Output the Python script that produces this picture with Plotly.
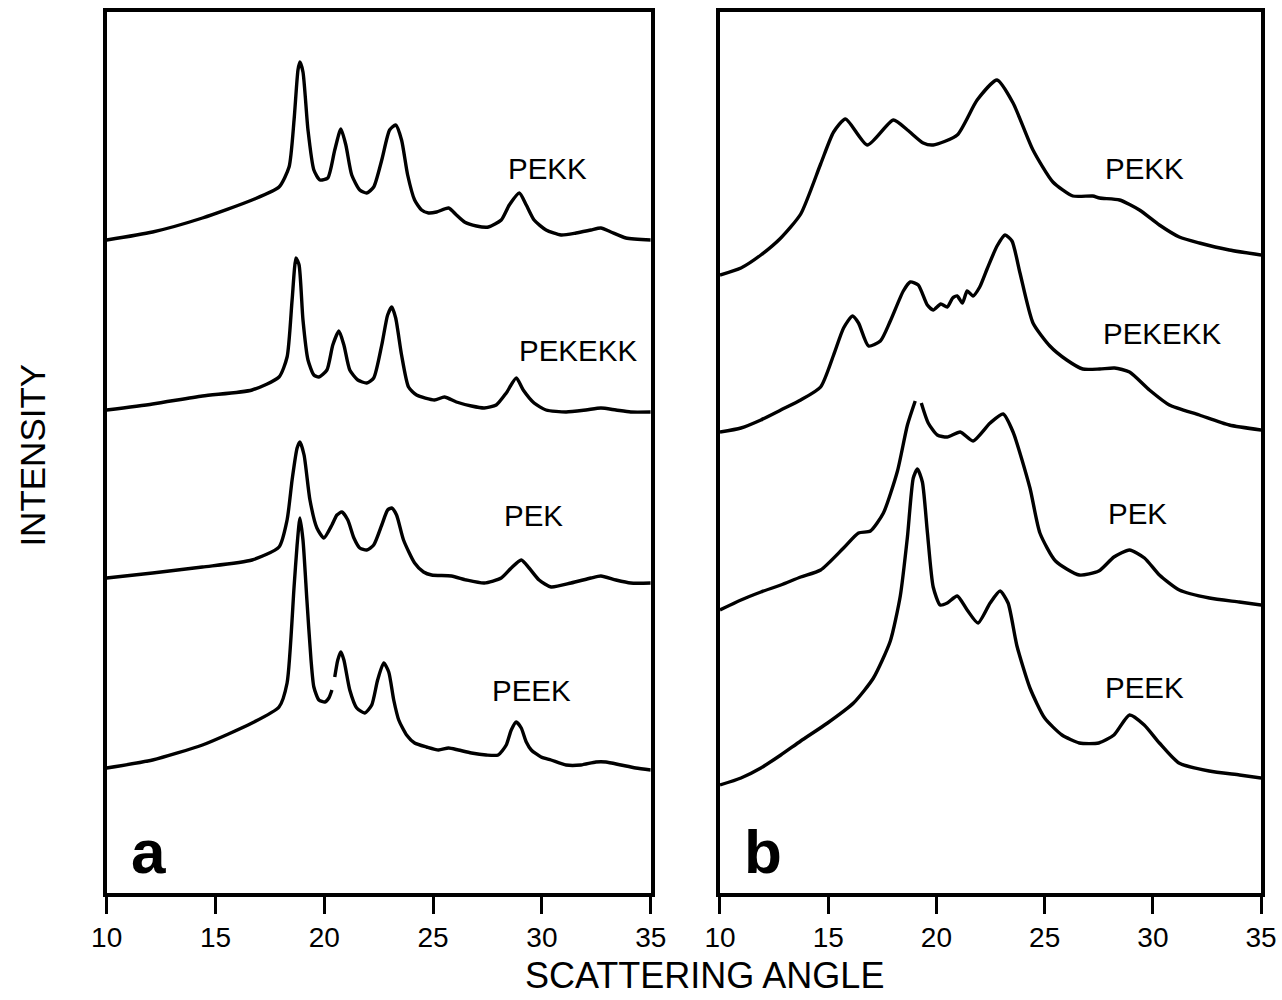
import plotly.graph_objects as go

# ---------------- Panel a (sharp crystalline patterns) ----------------
# scattering angle (deg) and intensity (arbitrary units, curves stacked)
a_pekk_x = [10.00, 12.11, 14.40, 16.68, 17.92, 18.38, 18.61, 18.79, 18.88, 19.02, 19.25, 19.52, 19.80, 20.16,
            20.48, 20.76, 20.99, 21.26, 21.63, 21.95, 22.27, 22.64, 23.00, 23.28, 23.55, 23.83, 24.15, 24.47,
            24.79, 25.16, 25.71, 26.07, 26.44, 26.99, 27.54, 28.13, 28.50, 28.96, 29.28, 29.64, 30.19, 30.88,
            31.57, 32.25, 32.71, 33.17, 33.86, 35.00]
a_pekk_y = [653, 661, 675, 693, 706, 726, 773, 823, 831, 821, 763, 723, 713, 715,
            743, 764, 748, 718, 703, 700, 706, 733, 763, 768, 753, 718, 693, 683,
            680, 681, 685, 678, 671, 667, 666, 673, 688, 700, 688, 673, 663, 658,
            660, 663, 665, 661, 655, 653]

a_pekekk_x = [10.00, 12.11, 14.40, 16.68, 17.92, 18.29, 18.52, 18.70, 18.84, 19.02, 19.25, 19.52, 19.75, 20.12,
              20.39, 20.67, 20.90, 21.17, 21.54, 21.95, 22.27, 22.64, 22.91, 23.10, 23.28, 23.55, 23.87, 24.24,
              25.06, 25.52, 26.07, 26.76, 27.35, 27.90, 28.36, 28.82, 29.14, 29.64, 30.19, 31.11, 32.02, 32.71,
              33.40, 34.08, 35.00]
a_pekekk_y = [483, 489, 497, 503, 516, 536, 593, 635, 628, 573, 533, 518, 516, 523,
              548, 562, 548, 523, 513, 510, 515, 548, 578, 586, 575, 538, 506, 498,
              493, 496, 491, 487, 485, 488, 500, 515, 503, 490, 483, 481, 483, 485,
              483, 481, 481]

a_pek_x = [10.00, 12.11, 14.40, 16.68, 17.92, 18.29, 18.52, 18.75, 18.88, 19.07, 19.34, 19.66, 19.98, 20.35,
           20.58, 20.81, 21.08, 21.36, 21.63, 21.95, 22.27, 22.64, 22.91, 23.10, 23.32, 23.64, 24.15, 24.56,
           24.93, 25.84, 26.53, 27.35, 28.13, 28.59, 29.05, 29.41, 29.87, 30.42, 31.34, 32.25, 32.71, 33.40,
           34.08, 35.00]
a_pek_y = [315, 320, 326, 333, 346, 373, 413, 445, 451, 438, 393, 365, 355, 368,
           378, 381, 373, 355, 345, 343, 348, 368, 383, 385, 378, 353, 330, 321,
           318, 317, 313, 310, 315, 325, 333, 325, 313, 306, 310, 315, 317, 313,
           310, 310]

a_peek_x = [10.00, 12.11, 14.40, 16.68, 17.92, 18.29, 18.61, 18.75, 18.88, 19.02, 19.20, 19.39, 19.52, 19.75,
            20.03, 20.21, 20.35, None, 20.48, 20.62, 20.76, 20.90, 21.17, 21.49, 21.86, 22.18, 22.45, 22.73,
            22.96, 23.19, 23.42, 23.78, 24.15, 24.70, 25.25, 25.71, 26.16, 26.76, 27.44, 27.99, 28.36, 28.59,
            28.82, 29.05, 29.28, 29.51, 29.96, 30.42, 31.11, 31.79, 32.48, 32.94, 33.63, 34.31, 35.00]
a_peek_y = [125, 133, 148, 170, 186, 210, 306, 348, 375, 353, 293, 233, 206, 193,
            191, 195, 203, None, 216, 233, 241, 233, 203, 185, 180, 188, 213, 230,
            221, 193, 173, 158, 150, 146, 143, 145, 143, 140, 138, 138, 148, 163,
            171, 165, 151, 143, 136, 133, 128, 128, 131, 131, 128, 125, 123]

# ---------------- Panel b (broad patterns) ----------------
b_pekk_x = [10.00, 10.97, 11.89, 12.81, 13.73, 14.65, 15.25, 15.80, 16.81, 18.01, 18.66, 19.39, 19.85, 20.96,
            21.88, 22.80, 23.54, 24.46, 25.38, 26.30, 27.22, 27.54, 28.46, 29.38, 30.30, 31.22, 32.15, 33.53,
            35.00]
b_pekk_y = [618, 625, 638, 655, 679, 729, 761, 774, 748, 773, 763, 750, 748, 758,
            793, 813, 790, 743, 711, 697, 697, 695, 693, 683, 668, 656, 650, 643,
            638]

b_pekekk_x = [10.00, 10.97, 11.89, 12.81, 13.73, 14.65, 15.25, 15.71, 16.12, 16.40, 16.86, 17.41, 17.87, 18.47,
              18.79, 19.16, 19.58, 19.85, 20.20, 20.50, 20.75, 20.96, 21.20, 21.42, 21.69, 22.00, 22.34, 22.80,
              23.17, 23.49, 23.86, 24.46, 25.24, 26.02, 26.76, 27.54, 28.23, 28.92, 29.84, 30.76, 32.15, 33.53,
              35.00]
b_pekekk_y = [461, 465, 473, 483, 493, 506, 538, 565, 577, 570, 547, 552, 572, 602,
              611, 608, 588, 583, 589, 586, 595, 597, 590, 602, 597, 606, 624, 647,
              658, 652, 620, 570, 547, 533, 524, 524, 525, 521, 503, 488, 478, 468,
              463]

b_pek_x = [10.00, 10.97, 11.89, 12.81, 13.73, 14.65, 15.71, 16.40, 16.95, 17.55, 18.20, 18.66, 19.02, None,
           19.30, 19.62, 20.04, 20.50, 21.10, 21.69, 22.48, 23.08, 23.54, 24.32, 24.78, 25.50, 26.60, 27.50,
           28.20, 28.92, 29.61, 30.30, 31.22, 32.61, 33.99, 35.00]
b_pek_y = [283, 293, 301, 308, 316, 323, 345, 360, 362, 380, 422, 468, 492, None,
           490, 470, 458, 456, 461, 452, 470, 479, 461, 405, 360, 332, 318, 322,
           336, 343, 335, 318, 303, 295, 291, 288]

b_peek_x = [10.00, 10.97, 11.89, 12.81, 13.73, 14.97, 16.17, 17.09, 17.87, 18.33, 18.66, 18.93, 19.12, 19.35,
            19.58, 19.85, 20.17, 20.50, 20.96, 21.42, 21.92, 22.48, 22.94, 23.31, 23.72, 24.32, 25.00, 25.80,
            26.60, 27.50, 28.20, 28.92, 29.60, 30.30, 31.20, 32.60, 34.00, 35.00]
b_peek_y = [108, 115, 125, 138, 152, 170, 190, 215, 252, 297, 356, 415, 424, 411,
            361, 306, 288, 290, 297, 283, 270, 290, 302, 290, 247, 205, 175, 158,
            150, 150, 158, 178, 168, 150, 130, 122, 118, 115]

sample_names = ["PEKK", "PEKEKK", "PEK", "PEEK"]
x_ticks = [10, 15, 20, 25, 30, 35]

LINE = dict(color="black", width=3.4, shape="spline", smoothing=0.6)

fig = go.Figure()
panel_a = [(a_pekk_x, a_pekk_y), (a_pekekk_x, a_pekekk_y), (a_pek_x, a_pek_y), (a_peek_x, a_peek_y)]
panel_b = [(b_pekk_x, b_pekk_y), (b_pekekk_x, b_pekekk_y), (b_pek_x, b_pek_y), (b_peek_x, b_peek_y)]
for name, (xs, ys) in zip(sample_names, panel_a):
    fig.add_trace(go.Scatter(x=xs, y=ys, mode="lines", line=LINE, name=name,
                             xaxis="x", yaxis="y", connectgaps=False, showlegend=False))
for name, (xs, ys) in zip(sample_names, panel_b):
    fig.add_trace(go.Scatter(x=xs, y=ys, mode="lines", line=LINE, name=name,
                             xaxis="x2", yaxis="y2", connectgaps=False, showlegend=False))

TICKFONT = dict(family="Liberation Sans Narrow, Liberation Sans, Arial", size=28, color="black")
common_x = dict(range=[10, 35], tickvals=x_ticks, ticktext=[str(t) for t in x_ticks],
                showline=True, mirror=True, linecolor="black", linewidth=3.5,
                ticks="outside", ticklen=17, tickwidth=2.5, tickcolor="black",
                tickfont=TICKFONT, showgrid=False, zeroline=False)
common_y = dict(range=[0, 881], showline=True, mirror=True, linecolor="black", linewidth=3.5,
                showticklabels=False, ticks="", showgrid=False, zeroline=False)

W = 1282
fig.update_layout(
    width=W, height=1000,
    margin=dict(l=0, r=0, t=0, b=0),
    paper_bgcolor="white", plot_bgcolor="white",
    xaxis=dict(domain=[93 / W, 651 / W], anchor="y", **common_x),
    yaxis=dict(domain=[0.107, 0.988], anchor="x", **common_y),
    xaxis2=dict(domain=[722 / W, 1277 / W], anchor="y2", **common_x),
    yaxis2=dict(domain=[0.107, 0.988], anchor="x2", **common_y),
)

LABELFONT = dict(family="Liberation Sans, Arial", size=29.5, color="black")
labels_a = [(30.24, 725), (31.66, 543), (29.60, 378), (29.50, 203)]
labels_b = [(29.62, 725), (30.40, 560), (29.28, 380), (29.62, 206)]
for name, (lx, ly) in zip(sample_names, labels_a):
    fig.add_annotation(x=lx, y=ly, xref="x", yref="y", text=name, showarrow=False, font=LABELFONT)
for name, (lx, ly) in zip(sample_names, labels_b):
    fig.add_annotation(x=lx, y=ly, xref="x2", yref="y2", text=name, showarrow=False, font=LABELFONT)

PANELFONT = dict(family="Liberation Sans, Arial", size=62, color="black")
fig.add_annotation(x=11.9, y=42, xref="x", yref="y", text="<b>a</b>", showarrow=False, font=PANELFONT)
fig.add_annotation(x=11.98, y=42, xref="x2", yref="y2", text="<b>b</b>", showarrow=False, font=PANELFONT)

fig.add_annotation(x=706 / W, y=1 - 975 / 1000, xref="paper", yref="paper", text="SCATTERING ANGLE",
                   xanchor="center", yanchor="middle", showarrow=False,
                   font=dict(family="Liberation Sans, Arial", size=36, color="black"))
fig.add_annotation(x=16 / W, y=1 - 455 / 1000, xref="paper", yref="paper", text="INTENSITY",
                   xanchor="center", yanchor="middle", textangle=-90, showarrow=False,
                   font=dict(family="Liberation Sans, Arial", size=35, color="black"))

fig.write_html("out.html", config={"displayModeBar": False},
               post_script="document.body.style.margin='0';")
